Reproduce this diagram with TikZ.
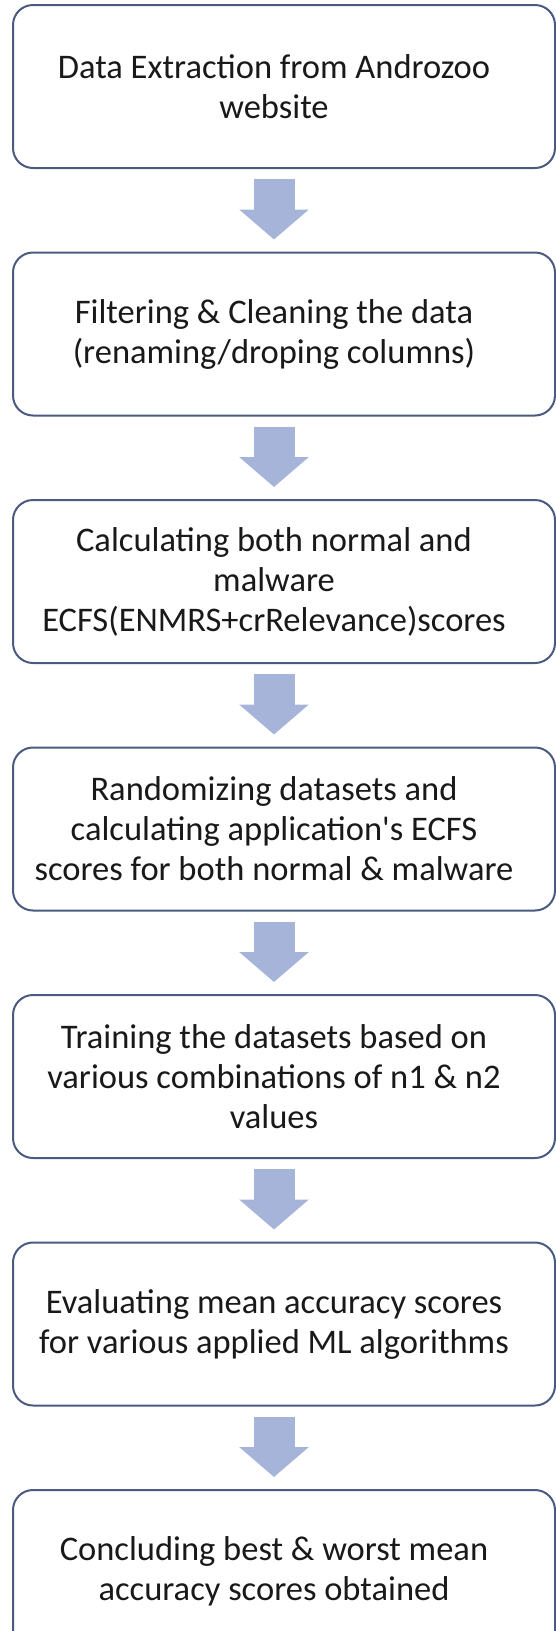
\documentclass[tikz,border=0pt]{standalone}
\usepackage{fontspec}
\setmainfont{Carlito}
\usepackage{tikz}
\usetikzlibrary{positioning, arrows.meta}
\definecolor{boxline}{RGB}{74,90,128}
\definecolor{arrowblue}{RGB}{165,180,216}
\tikzset{
    stepbox/.style={draw=boxline, line width=2pt, rounded corners=20pt, fill=white, minimum width=542pt, minimum height=163pt, inner sep=0pt},
    steptext/.style={align=center, font=\fontsize{34.5}{40}\selectfont, text=black!90},
    flowarrow/.style={draw=arrowblue, line width=41pt, -{Triangle[length=30pt, width=68pt]}, shorten <=10pt, shorten >=12pt},
}

\begin{document}
\begin{tikzpicture}[
    x=1pt, y=1pt,
    node distance=82.5pt,
]
\clip (0,0) rectangle (556,-1631);
\node[stepbox] (b1) at (284,-86.5) {};
\node[stepbox, below=of b1] (b2) {};
\node[stepbox, below=of b2] (b3) {};
\node[stepbox, below=of b3] (b4) {};
\node[stepbox, below=of b4] (b5) {};
\node[stepbox, below=of b5] (b6) {};
\node[stepbox, below=of b6] (b7) {};

\node[steptext] (t1) at ([xshift=-10pt]b1.center) {Data Extraction from Androzoo\\website};
\node[steptext] (t2) at ([xshift=-10pt]b2.center) {Filtering \& Cleaning the data\\(renaming/droping columns)};
\node[steptext] (t3) at ([xshift=-10pt]b3.center) {Calculating both normal and\\malware\\ECFS(ENMRS+crRelevance)scores};
\node[steptext] (t4) at ([xshift=-10pt]b4.center) {Randomizing datasets and\\calculating application\textquotesingle s ECFS\\scores for both normal \& malware};
\node[steptext] (t5) at ([xshift=-10pt]b5.center) {Training the datasets based on\\various combinations of n1 \& n2\\values};
\node[steptext] (t6) at ([xshift=-10pt]b6.center) {Evaluating mean accuracy scores\\for various applied ML algorithms};
\node[steptext] (t7) at ([xshift=-10pt]b7.center) {Concluding best \& worst mean\\accuracy scores obtained};

\draw[flowarrow] (t1 |- b1.south) -- (t1 |- b2.north);
\draw[flowarrow] (t2 |- b2.south) -- (t2 |- b3.north);
\draw[flowarrow] (t3 |- b3.south) -- (t3 |- b4.north);
\draw[flowarrow] (t4 |- b4.south) -- (t4 |- b5.north);
\draw[flowarrow] (t5 |- b5.south) -- (t5 |- b6.north);
\draw[flowarrow] (t6 |- b6.south) -- (t6 |- b7.north);
\end{tikzpicture}
\end{document}
